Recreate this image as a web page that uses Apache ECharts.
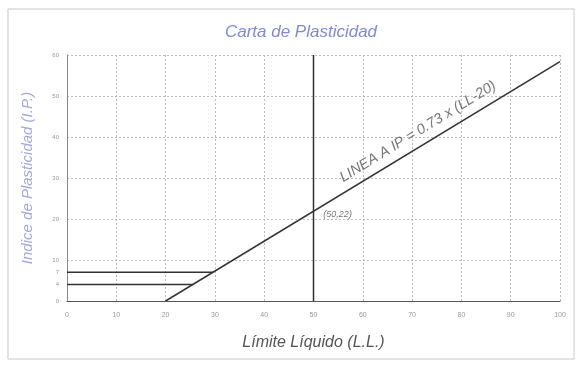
<!DOCTYPE html>
<html><head><meta charset="utf-8">
<script src="https://cdn.jsdelivr.net/npm/echarts@6/dist/echarts.min.js"></script>
<style>html,body{margin:0;padding:0;background:#fff}#c{width:578px;height:367px}</style>
</head><body><div id="c"></div>
<script>
const xTicks = [0,10,20,30,40,50,60,70,80,90,100];
const yTicks = [0,4,7,10,20,30,40,50,60];
const aLineX = [20, 100];
const aLineY = [0, 58.4];
const verticalX = [50, 50];
const verticalY = [0, 60];
const h7X = [0, 29.6];
const h7Y = [7, 7];
const h4X = [0, 25.5];
const h4Y = [4, 4];
const aLineLabel = 'LINEA A IP = 0.73 x (LL-20)';
const aLineLabelPos = [71.2, 41.3];
const pointLabel = '(50,22)';
const pointLabelPos = [52, 21];

const pairs = (xs, ys) => xs.map((x, i) => [x, ys[i]]);
const lineStyle = {color: '#333', width: 1.5};
const chart = echarts.init(document.getElementById('c'));
chart.setOption({
  animation: false,
  backgroundColor: '#fff',
  title: {
    text: 'Carta de Plasticidad', left: 296, top: 19, textAlign: 'center',
    textStyle: {fontFamily: 'Liberation Sans', fontStyle: 'italic', fontWeight: 'normal', fontSize: 17, color: '#8189d8'}
  },
  graphic: [{type: 'rect', shape: {x: 8, y: 9, width: 566, height: 350}, style: {fill: 'none', stroke: '#c8c8c8', lineWidth: 1}, silent: true}],
  grid: {left: 67, right: 18, top: 55, bottom: 66},
  xAxis: {
    type: 'value', min: 0, max: 100, interval: 10,
    name: 'Límite Líquido (L.L.)', nameLocation: 'middle', nameGap: 34,
    nameTextStyle: {fontFamily: 'Liberation Sans', fontStyle: 'italic', fontSize: 16, color: '#555'},
    axisLine: {show: true, lineStyle: {color: '#555', width: 1.2}},
    axisTick: {show: false},
    axisLabel: {fontSize: 7, color: '#999', margin: 11, fontFamily: 'Liberation Sans'},
    splitLine: {show: true, lineStyle: {color: '#bcbcbc', type: [2, 2], width: 1}}
  },
  yAxis: {
    type: 'value', min: 0, max: 60, interval: 10,
    name: 'Indice de Plasticidad (I.P.)', nameLocation: 'middle', nameGap: 32,
    nameTextStyle: {fontFamily: 'Liberation Sans', fontStyle: 'italic', fontSize: 15, color: '#a3a8e0'},
    axisLine: {show: true, lineStyle: {color: '#888', width: 1}},
    axisTick: {show: false},
    axisLabel: {customValues: yTicks, fontSize: 6, color: '#999', margin: 8, fontFamily: 'Liberation Sans'},
    splitLine: {show: true, lineStyle: {color: '#bcbcbc', type: [2, 2], width: 1}}
  },
  series: [
    {type: 'line', data: pairs(aLineX, aLineY), symbol: 'none', lineStyle: lineStyle},
    {type: 'line', data: pairs(verticalX, verticalY), symbol: 'none', lineStyle: lineStyle},
    {type: 'line', data: pairs(h7X, h7Y), symbol: 'none', lineStyle: lineStyle},
    {type: 'line', data: pairs(h4X, h4Y), symbol: 'none', lineStyle: lineStyle},
    {type: 'scatter', symbolSize: 0, data: [aLineLabelPos],
     label: {show: true, formatter: aLineLabel, rotate: 31.5, position: 'inside', fontFamily: 'Liberation Sans', fontStyle: 'italic', fontSize: 14.5, color: '#555'}},
    {type: 'scatter', symbolSize: 0, data: [pointLabelPos],
     label: {show: true, formatter: pointLabel, position: 'right', distance: 0, fontFamily: 'Liberation Sans', fontStyle: 'italic', fontSize: 9, color: '#555'}}
  ]
});
</script></body></html>
